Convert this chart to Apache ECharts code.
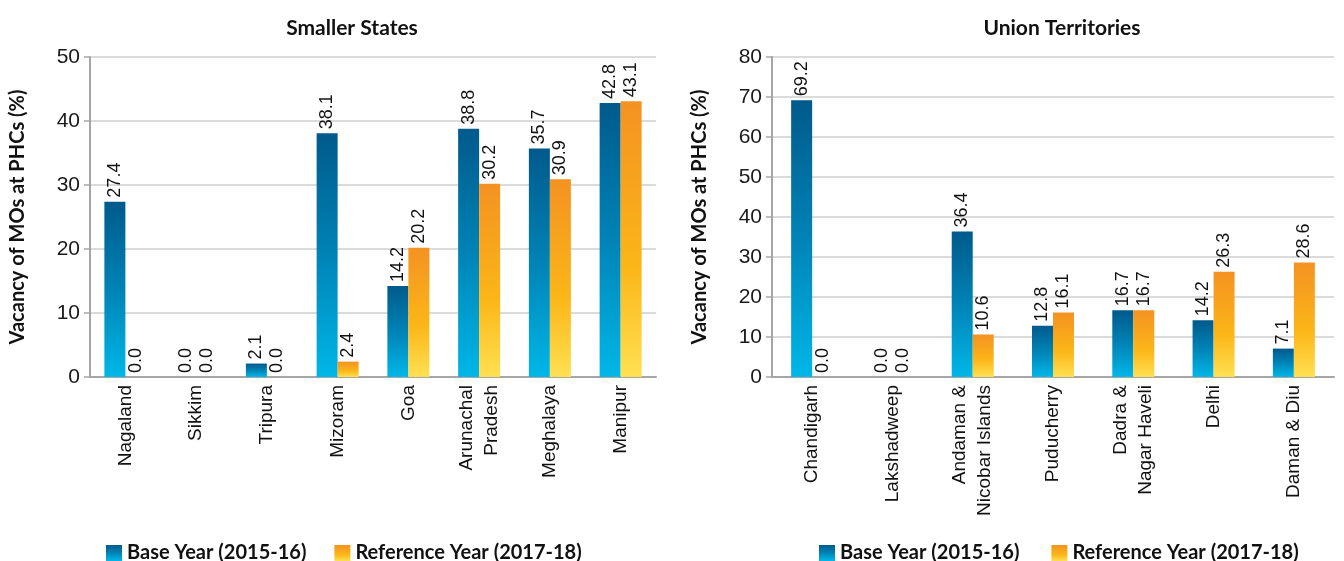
<!DOCTYPE html>
<html>
<head>
<meta charset="utf-8">
<script src="https://cdn.jsdelivr.net/npm/echarts@6/dist/echarts.min.js"></script>
<style>
  html, body { margin: 0; padding: 0; background: #fff; }
  #chart { width: 1344px; height: 561px; }
</style>
</head>
<body>
<div id="chart"></div>
<script>
const stateNames = ['Nagaland', 'Sikkim', 'Tripura', 'Mizoram', 'Goa', 'Arunachal\nPradesh', 'Meghalaya', 'Manipur']
const stateBase = [27.4, 0.0, 2.1, 38.1, 14.2, 38.8, 35.7, 42.8]
const stateRef = [0.0, 0.0, 0.0, 2.4, 20.2, 30.2, 30.9, 43.1]

const utNames = ['Chandigarh', 'Lakshadweep', 'Andaman &\nNicobar Islands', 'Puducherry', 'Dadra &\nNagar Haveli', 'Delhi', 'Daman & Diu']
const utBase = [69.2, 0.0, 36.4, 12.8, 16.7, 14.2, 7.1]
const utRef = [0.0, 0.0, 10.6, 16.1, 16.7, 26.3, 28.6]

const baseName = 'Base Year (2015-16)'
const refName = 'Reference Year (2017-18)'

const blueGrad = new echarts.graphic.LinearGradient(0, 0, 0, 1, [
  { offset: 0, color: '#005a8b' },
  { offset: 0.5, color: '#0083b6' },
  { offset: 1, color: '#00b7e8' }
])
const orangeGrad = new echarts.graphic.LinearGradient(0, 0, 0, 1, [
  { offset: 0, color: '#f49222' },
  { offset: 0.6, color: '#fbb618' },
  { offset: 1, color: '#ffe052' }
])

const txtFont = 'Liberation Sans'
const boldFont = 'Lato'

function xAxisOpt(idx, names) {
  return {
    type: 'category',
    gridIndex: idx,
    data: names,
    axisLine: { lineStyle: { color: '#a6a6a6', width: 2 } },
    axisTick: { show: false },
    axisLabel: { rotate: 90, interval: 0, margin: 8, color: '#111', fontSize: 19, fontFamily: txtFont, lineHeight: 25 }
  }
}

function yAxisOpt(idx, max) {
  return {
    type: 'value',
    gridIndex: idx,
    min: 0,
    max: max,
    interval: 10,
    name: 'Vacancy of MOs at PHCs (%)',
    nameLocation: 'middle',
    nameGap: 62,
    nameTextStyle: { fontSize: 20, fontWeight: 'bold', fontFamily: boldFont, color: '#111' },
    axisLine: { show: true, lineStyle: { color: '#a6a6a6', width: 2 } },
    axisTick: { show: true, length: 6, lineStyle: { color: '#a6a6a6', width: 1.5 } },
    axisLabel: { color: '#1a1a1a', fontSize: 21, fontFamily: txtFont, margin: 10 },
    splitLine: { lineStyle: { color: '#cfcfcf', width: 1.5 } }
  }
}

function barLabel() {
  return {
    show: true,
    position: 'top',
    rotate: 90,
    align: 'left',
    verticalAlign: 'middle',
    distance: 4,
    color: '#111',
    fontSize: 18,
    fontFamily: txtFont,
    formatter: (p) => p.value.toFixed(1)
  }
}

function barSeries(name, data, idx, grad) {
  return {
    name: name,
    type: 'bar',
    xAxisIndex: idx,
    yAxisIndex: idx,
    data: data,
    barWidth: 21,
    barGap: '0%',
    itemStyle: { color: grad },
    label: barLabel()
  }
}

const legendText = { fontSize: 20, fontWeight: 'bold', fontFamily: boldFont, color: '#111' }
const titleText = { fontSize: 21, fontWeight: 'bold', fontFamily: boldFont, color: '#111' }

const option = {
  animation: false,
  title: [
    { text: 'Smaller States', left: 347, top: 13, textAlign: 'center', textStyle: titleText },
    { text: 'Union Territories', left: 1057, top: 13, textAlign: 'center', textStyle: titleText }
  ],
  legend: [
    { data: [baseName, refName], left: 101, top: 538, itemWidth: 16, itemHeight: 16, itemGap: 28, textStyle: legendText, icon: 'rect' },
    { data: [baseName, refName], left: 814, top: 538, itemWidth: 16, itemHeight: 16, itemGap: 32, textStyle: legendText, icon: 'rect' }
  ],
  grid: [
    { left: 90, top: 57, width: 566, height: 320 },
    { left: 772, top: 57, width: 562, height: 320 }
  ],
  xAxis: [xAxisOpt(0, stateNames), xAxisOpt(1, utNames)],
  yAxis: [yAxisOpt(0, 50), yAxisOpt(1, 80)],
  series: [
    barSeries(baseName, stateBase, 0, blueGrad),
    barSeries(refName, stateRef, 0, orangeGrad),
    barSeries(baseName, utBase, 1, blueGrad),
    barSeries(refName, utRef, 1, orangeGrad)
  ]
}

const myChart = echarts.init(document.getElementById('chart'))
myChart.setOption(option)
</script>
</body>
</html>
